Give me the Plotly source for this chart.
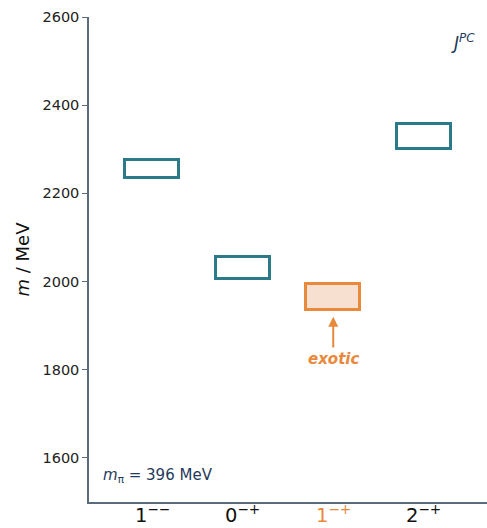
import plotly.graph_objects as go

categories = ["1--", "0-+", "1-+", "2-+"]
tick_labels = ["1<sup>\u2212\u2212</sup>", "0<sup>\u2212+</sup>", "1<sup>\u2212+</sup>", "2<sup>\u2212+</sup>"]
mass_low = [2235, 2005, 1935, 2300]
mass_high = [2275, 2055, 1995, 2358]
exotic = [False, False, True, False]

TEAL = "#2B7A89"
ORANGE = "#E8893C"
ORANGE_FILL = "#F7E0D0"
AXIS = "#5B6B7C"
NAVY = "#1F3A5C"

xs = list(range(len(categories)))
fig = go.Figure()
fig.add_trace(go.Bar(
    x=xs,
    y=[h - l for l, h in zip(mass_low, mass_high)],
    base=mass_low,
    width=0.6,
    marker=dict(
        color=[ORANGE_FILL if e else "rgba(255,255,255,0)" for e in exotic],
        line=dict(color=[ORANGE if e else TEAL for e in exotic], width=3),
    ),
    hoverinfo="skip",
    showlegend=False,
))

for x, lab, e in zip(xs, tick_labels, exotic):
    fig.add_annotation(
        x=x, y=0, xref="x", yref="paper", yanchor="middle", yshift=-12, showarrow=False,
        text=lab, font=dict(size=19.5, color=ORANGE if e else "#111111", family="DejaVu Sans"),
    )

ex_i = exotic.index(True)
fig.add_annotation(
    x=xs[ex_i], y=mass_low[ex_i] - 15, ax=xs[ex_i], ay=mass_low[ex_i] - 88,
    xref="x", yref="y", axref="x", ayref="y",
    showarrow=True, arrowhead=2, arrowsize=1, arrowwidth=2, arrowcolor=ORANGE, text="",
)
fig.add_annotation(
    x=xs[ex_i], y=mass_low[ex_i] - 110, xref="x", yref="y", showarrow=False,
    text="<b><i>exotic</i></b>", font=dict(color=ORANGE, size=15, family="DejaVu Sans"),
)
fig.add_annotation(
    x=0.03, y=0.03, xref="paper", yref="paper", xanchor="left", yanchor="bottom", showarrow=False,
    text="<i>m</i><sub>\u03c0</sub> = 396 MeV", font=dict(color=NAVY, size=15, family="DejaVu Sans"),
)
fig.add_annotation(
    x=0.975, y=0.975, xref="paper", yref="paper", xanchor="right", yanchor="top", showarrow=False,
    text="<i>J</i><sup><i>PC</i></sup>", font=dict(color=NAVY, size=17, family="DejaVu Sans"),
)

fig.update_layout(
    width=487, height=528,
    margin=dict(l=89, r=0, t=17, b=26),
    plot_bgcolor="white", paper_bgcolor="white",
    font=dict(family="DejaVu Sans", color="#222222"),
    bargap=0,
)
fig.update_xaxes(
    range=[-0.7, 3.7], tickvals=xs, showticklabels=False, automargin=False,
    showline=True, linecolor=AXIS, linewidth=1.5, showgrid=False, zeroline=False, ticks="",
)
fig.update_yaxes(
    range=[1500, 2600], tickvals=[1600, 1800, 2000, 2200, 2400, 2600], automargin=False,
    showline=True, linecolor=AXIS, linewidth=1.5, showgrid=False, zeroline=False,
    ticks="outside", ticklen=5, tickcolor=AXIS, tickfont=dict(size=14.5, color="#222222"),
    title=dict(text="<i>m</i> / MeV", font=dict(size=18, color="#111111"), standoff=8),
)

fig.write_html("out.html")
